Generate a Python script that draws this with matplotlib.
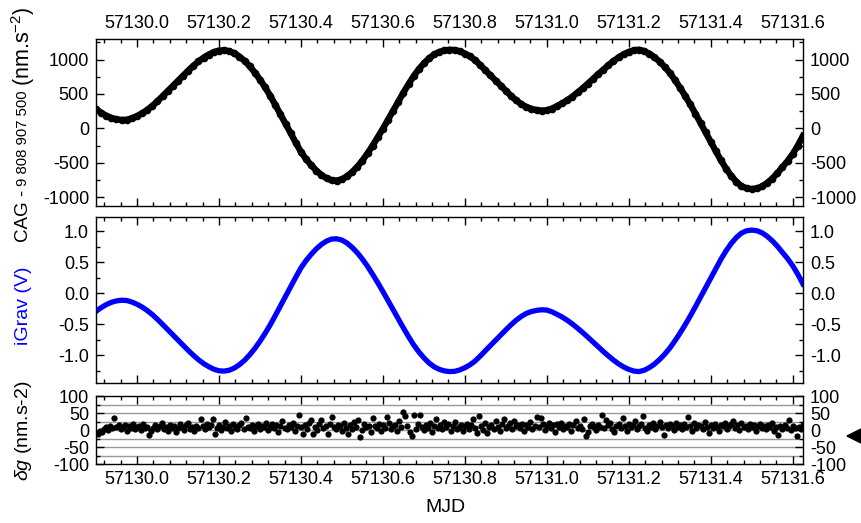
import numpy as np
import matplotlib.pyplot as plt
from matplotlib.ticker import MultipleLocator, FormatStrFormatter
from matplotlib.patches import Polygon

plt.rcParams['font.family'] = ['Liberation Sans', 'DejaVu Sans']
plt.rcParams['axes.unicode_minus'] = False
plt.rcParams['mathtext.fontset'] = 'custom'
plt.rcParams['mathtext.rm'] = 'Liberation Sans'
plt.rcParams['mathtext.it'] = 'Liberation Sans:italic'

# sampling of the series (MJD)
mjd_start = 57129.9
curve_step = 0.0125
resid_step = 0.005

# CAG - 9 808 907 500 (nm.s-2)
cag = [280, 227, 184, 151, 130, 121, 125, 146, 178, 218,
       268, 327, 394, 467, 542, 616, 691, 766, 839, 908,
       972, 1027, 1072, 1108, 1130, 1135, 1122, 1091, 1043, 980,
       902, 811, 709, 596, 474, 340, 202, 66, -70, -210,
       -341, -447, -536, -614, -678, -726, -755, -759, -740, -697,
       -635, -559, -468, -364, -250, -130, -5, 126, 258, 389,
       517, 642, 758, 859, 945, 1017, 1073, 1110, 1132, 1142,
       1138, 1119, 1087, 1045, 991, 920, 843, 769, 694, 619,
       545, 473, 407, 353, 310, 282, 266, 257, 262, 287,
       323, 362, 408, 462, 521, 583, 649, 717, 786, 852,
       916, 977, 1031, 1076, 1111, 1135, 1142, 1123, 1086, 1035,
       970, 894, 806, 703, 591, 472, 347, 214, 77, -59,
       -196, -334, -467, -587, -692, -777, -840, -873, -883, -874,
       -845, -795, -730, -652, -564, -474, -372, -250, -110]

# iGrav (V)
igrav = [-0.291, -0.231, -0.182, -0.145, -0.122, -0.111, -0.116, -0.140, -0.176, -0.221,
         -0.277, -0.343, -0.419, -0.501, -0.586, -0.669, -0.753, -0.838, -0.920, -0.998,
         -1.070, -1.132, -1.182, -1.223, -1.248, -1.253, -1.239, -1.204, -1.150, -1.079,
         -0.991, -0.889, -0.774, -0.646, -0.509, -0.358, -0.203, -0.050, 0.104, 0.261,
         0.409, 0.528, 0.628, 0.716, 0.788, 0.842, 0.875, 0.879, 0.858, 0.810,
         0.740, 0.654, 0.552, 0.435, 0.306, 0.171, 0.030, -0.117, -0.266, -0.413,
         -0.557, -0.698, -0.829, -0.943, -1.039, -1.121, -1.184, -1.225, -1.250, -1.261,
         -1.257, -1.235, -1.199, -1.152, -1.091, -1.011, -0.925, -0.841, -0.757, -0.672,
         -0.589, -0.508, -0.434, -0.373, -0.324, -0.293, -0.275, -0.265, -0.270, -0.298,
         -0.339, -0.383, -0.435, -0.495, -0.562, -0.632, -0.706, -0.783, -0.860, -0.935,
         -1.007, -1.075, -1.136, -1.187, -1.226, -1.253, -1.261, -1.240, -1.198, -1.141,
         -1.068, -0.982, -0.883, -0.767, -0.641, -0.507, -0.366, -0.216, -0.062, 0.091,
         0.245, 0.401, 0.551, 0.686, 0.804, 0.900, 0.971, 1.008, 1.019, 1.009,
         0.976, 0.920, 0.847, 0.759, 0.660, 0.559, 0.444, 0.306, 0.149]

# residuals dg (nm.s-2)
resid = [-10, -11, -3, -6, 3, 8, 0, 13, 5, 35, 10, 16, 3, 8, 14, -2, 11, 6, 18, 2,
         8, 13, 0, 19, 5, 10, -16, -3, 6, 14, 2, 11, 21, 3, 8, -2, 16, 6, 13, -6,
         5, 18, 10, 0, 14, 22, 3, 8, -3, 13, 6, 33, 11, 2, 19, 8, 14, 33, -12, 5,
         16, 0, 10, 24, 6, 13, -2, 18, 8, 3, 14, 21, 2, 35, 10, 6, 16, -3, 11, 19,
         3, 13, 8, 22, 0, 10, 18, 5, 14, -5, 11, 26, 6, 2, 16, 10, 21, -2, 13, 44,
         8, -12, 14, 3, 22, 28, -12, 10, 0, 18, 28, 5, 13, -11, 19, 38, 8, 2, 16, 11,
         -3, 21, 6, -12, 14, 3, 24, 10, 30, -20, 0, 18, 8, 13, -6, 35, 11, 5, 19, -2,
         14, 6, 38, 22, 2, 11, 16, -3, 27, 8, 52, 40, 13, -7, -19, 45, 3, 19, 44, 10,
         0, 14, 6, 21, -5, 11, 33, 5, 16, 2, 25, 10, 18, -2, 13, 24, 3, 8, 16, -3,
         11, 19, 2, 14, 33, 6, -10, 40, 13, 0, 21, -9, 10, 16, 3, 26, 8, -2, 18, 32,
         5, 13, 22, 2, 27, 11, 16, 6, 19, -3, 14, 10, 24, 3, 13, 37, 8, 34, 18, 0,
         11, 21, 5, 14, -5, 18, 10, 22, 3, 13, 8, 19, -2, 16, 26, 6, 11, 2, 33, -19,
         -7, 13, 19, 8, 0, 16, 10, 45, 5, 30, 14, 22, 2, -7, 11, 18, 6, 34, 13, -2,
         19, 8, 14, 26, 3, 11, 18, 40, 6, -3, 16, 10, 21, 2, 13, 24, 8, -16, 14, 5,
         18, 11, 0, 22, 8, 14, 3, 19, 10, 39, 13, -2, 21, 6, 16, 11, 2, 24, 8, -9,
         14, 5, 19, 10, -3, 16, 13, 22, 3, 11, 18, 27, 6, 14, 0, 21, 10, 13, 3, 18,
         8, 16, -2, 13, 19, 5, 11, 2, 14, 10, 21, -3, 8, -14, 13, 3, 16, 6, 30, 0,
         11, 5, -19, 10, 2, 14]

grid_levels = [-75, -50, -25, 0, 25, 50, 75]

t_curve = mjd_start + curve_step * np.arange(len(cag))
t_resid = mjd_start + resid_step * np.arange(len(resid))

fig = plt.figure(figsize=(8.61, 5.23), dpi=100)
ax1 = fig.add_axes([0.1115, 0.606, 0.8211, 0.3193])
ax2 = fig.add_axes([0.1115, 0.2671, 0.8211, 0.3174], sharex=ax1)
ax3 = fig.add_axes([0.1115, 0.1128, 0.8211, 0.1300], sharex=ax1)

ax1.plot(t_curve, cag, color='black', lw=4.6, solid_joinstyle='round',
         marker='o', ms=5.5, mew=0)
ax2.plot(t_curve, igrav, color='#0000ff', lw=3.8, solid_joinstyle='round')
for lev in grid_levels:
    ax3.axhline(lev, color='#999999', lw=1.0, zorder=0)
ax3.plot(t_resid, resid, 'o', color='black', ms=4.5, mew=0)

ax1.set_xlim(57129.9, 57131.625)
ax1.set_ylim(-1130, 1297)
ax2.set_ylim(-1.45, 1.225)
ax3.set_ylim(-100, 100)

ax1.yaxis.set_major_locator(MultipleLocator(500))
ax1.yaxis.set_minor_locator(MultipleLocator(250))
ax2.yaxis.set_major_locator(MultipleLocator(0.5))
ax2.yaxis.set_minor_locator(MultipleLocator(0.25))
ax2.yaxis.set_major_formatter(FormatStrFormatter('%.1f'))
ax3.yaxis.set_major_locator(MultipleLocator(50))
ax3.yaxis.set_minor_locator(MultipleLocator(25))
ax1.xaxis.set_major_locator(MultipleLocator(0.2))
ax1.xaxis.set_minor_locator(MultipleLocator(0.04))
ax1.xaxis.set_major_formatter(FormatStrFormatter('%.1f'))

for ax in (ax1, ax2, ax3):
    for sp in ax.spines.values():
        sp.set_linewidth(1.0)
    ax.tick_params(which='both', direction='in', top=True, right=True,
                   labelright=True, labelsize=13, width=1.0)
    ax.tick_params(which='major', length=6, pad=5)
    ax.tick_params(which='minor', length=3)
    ax.tick_params(axis='x', labelbottom=False, labeltop=False)
ax1.tick_params(axis='x', labeltop=True)
ax3.tick_params(axis='x', labelbottom=True)

# CAG axis title built from three pieces stacked upwards
fig.canvas.draw()
renderer = fig.canvas.get_renderer()
ypos = 1 - 242 / 523
for piece, size in [('CAG -', 13.5), ('9 808 907 500', 10.7), ('(nm.s$^{-2}$)', 15.5)]:
    t = fig.text(0.027, ypos, piece, rotation=90, ha='center', va='bottom', fontsize=size)
    ypos += t.get_window_extent(renderer=renderer).height / fig.bbox.height + 4 / 523

fig.text(0.027, 1 - 306 / 523, 'iGrav (V)', rotation=90, ha='center', va='center',
         fontsize=14, color='#0000ff')
fig.text(0.027, 1 - 431 / 523, r'$\mathit{\delta g}$ (nm.s-2)', rotation=90, ha='center',
         va='center', fontsize=14)
fig.text(445 / 861, 1 - 508 / 523, 'MJD', ha='center', va='center', fontsize=14)

# marker on the right of the residual panel
fig.add_artist(Polygon([[847 / 861, 1 - 436 / 523], [861 / 861, 1 - 429 / 523],
                        [861 / 861, 1 - 443 / 523]], closed=True,
                       transform=fig.transFigure, color='black'))

fig.savefig('out.png', dpi=100)
